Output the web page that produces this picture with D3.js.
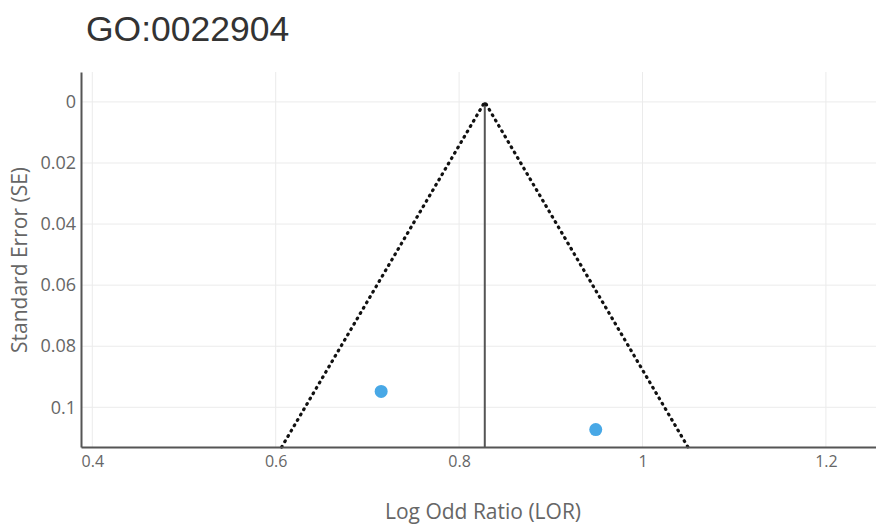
<!DOCTYPE html>
<html>
<head>
<meta charset="utf-8">
<script src="https://cdn.jsdelivr.net/npm/d3@7"></script>
<style>
  body { margin: 0; background: #fff; }
  svg { display: block; }
</style>
</head>
<body>
<svg id="chart"></svg>
<script>
// data
var title = "GO:0022904";
var pooledLOR = 0.828;
var maxSE = 0.113;
var studyLOR = [0.715, 0.949];
var studySE = [0.0948, 0.1073];
var xTicks = [0.4, 0.6, 0.8, 1, 1.2];
var yTicks = [0, 0.02, 0.04, 0.06, 0.08, 0.1];

var width = 876,
  height = 527;
var margin = { top: 72, right: 0, bottom: 80, left: 81 };

var svg = d3.select("svg#chart").attr("width", width).attr("height", height);

var scaleX = d3
  .scaleLinear()
  .domain([0.3877, 1.2546])
  .range([margin.left, width - margin.right]);

var scaleY = d3
  .scaleLinear()
  .domain([-0.0098, maxSE])
  .range([margin.top, height - margin.bottom]);

// grid
var grid = svg.append("g");
grid
  .selectAll(".vgrid")
  .data(xTicks)
  .enter()
  .append("line")
  .attr("x1", (d) => scaleX(d))
  .attr("x2", (d) => scaleX(d))
  .attr("y1", margin.top)
  .attr("y2", height - margin.bottom)
  .attr("stroke", "#ebebeb")
  .attr("stroke-width", 1);
grid
  .selectAll(".hgrid")
  .data(yTicks)
  .enter()
  .append("line")
  .attr("x1", margin.left)
  .attr("x2", width - margin.right)
  .attr("y1", (d) => scaleY(d))
  .attr("y2", (d) => scaleY(d))
  .attr("stroke", "#ebebeb")
  .attr("stroke-width", 1);

// funnel: pooled +/- 1.96 * SE
var funnel = [
  { x: pooledLOR - 1.96 * maxSE, y: maxSE },
  { x: pooledLOR, y: 0 },
  { x: pooledLOR + 1.96 * maxSE, y: maxSE },
];
var line = d3
  .line()
  .x((d) => scaleX(d.x))
  .y((d) => scaleY(d.y));

svg
  .append("line")
  .attr("x1", scaleX(pooledLOR))
  .attr("x2", scaleX(pooledLOR))
  .attr("y1", scaleY(0))
  .attr("y2", scaleY(maxSE))
  .attr("stroke", "#555")
  .attr("stroke-width", 2);

svg
  .append("path")
  .attr("d", line(funnel))
  .attr("fill", "none")
  .attr("stroke", "#111")
  .attr("stroke-width", 3.2)
  .attr("stroke-dasharray", "0.8,5.4")
  .attr("stroke-linecap", "round");

// points
svg
  .selectAll(".pt")
  .data(studyLOR)
  .enter()
  .append("circle")
  .attr("cx", (d) => scaleX(d))
  .attr("cy", (d, i) => scaleY(studySE[i]))
  .attr("r", 6.5)
  .attr("fill", "#48a8e6");

// axes
var xAxis = d3.axisBottom(scaleX).tickValues(xTicks).tickSize(0).tickFormat(d3.format("~g"));
var yAxis = d3.axisLeft(scaleY).tickValues(yTicks).tickSize(0).tickFormat(d3.format("~g"));

var gx = svg
  .append("g")
  .attr("transform", "translate(0," + (height - margin.bottom) + ")")
  .call(xAxis);
gx.select(".domain").attr("stroke", "#555").attr("stroke-width", 2);
gx.selectAll("text")
  .attr("dy", null)
  .attr("y", 20)
  .attr("fill", "#666")
  .style("font-family", "'Open Sans'")
  .style("font-size", "16px");

var gy = svg
  .append("g")
  .attr("transform", "translate(" + margin.left + ",0)")
  .call(yAxis);
gy.select(".domain").attr("stroke", "#555").attr("stroke-width", 2);
gy.selectAll("text")
  .attr("x", -5)
  .attr("fill", "#666")
  .style("font-family", "'Open Sans'")
  .style("font-size", "18px");

// titles
svg
  .append("text")
  .attr("x", 86)
  .attr("y", 41)
  .attr("fill", "#333")
  .style("font-family", "'Liberation Sans', Arial")
  .style("font-size", "35.5px")
  .text(title);

svg
  .append("text")
  .attr("x", 483)
  .attr("y", 519)
  .attr("text-anchor", "middle")
  .attr("fill", "#666")
  .style("font-family", "'Open Sans'")
  .style("font-size", "21px")
  .text("Log Odd Ratio (LOR)");

svg
  .append("text")
  .attr("transform", "translate(27,260) rotate(-90)")
  .attr("text-anchor", "middle")
  .attr("fill", "#666")
  .style("font-family", "'Open Sans'")
  .style("font-size", "21px")
  .text("Standard Error (SE)");
</script>
</body>
</html>
